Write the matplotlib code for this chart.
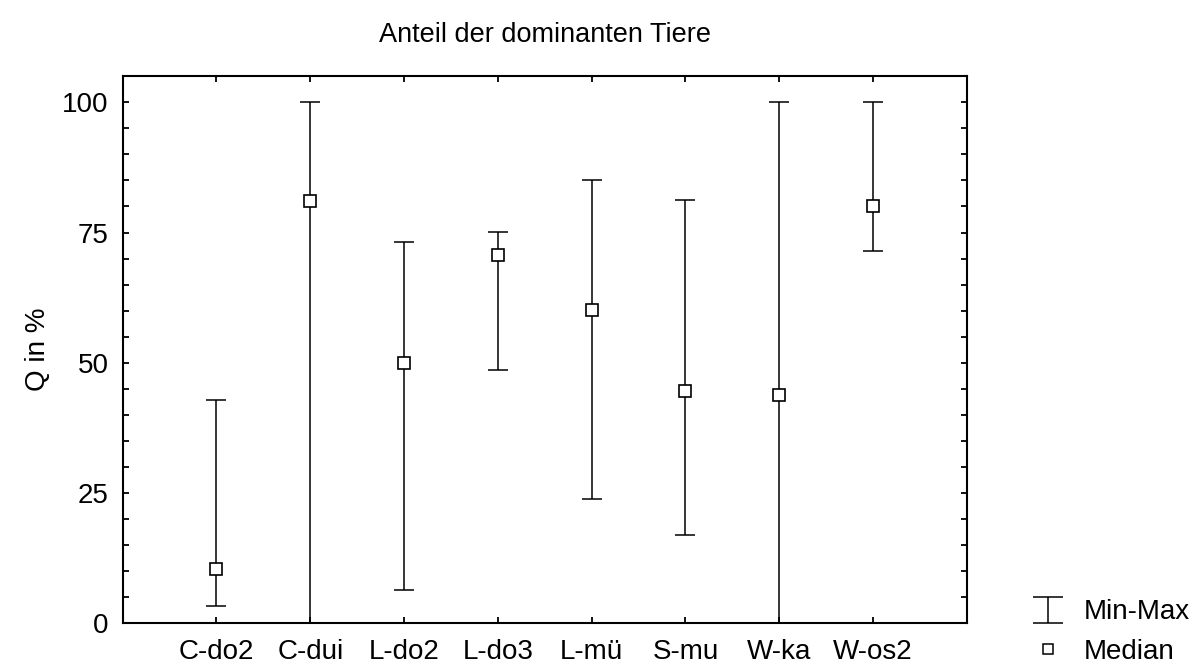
import matplotlib
matplotlib.use("Agg")
import matplotlib.pyplot as plt
from matplotlib.ticker import FixedLocator
from matplotlib.lines import Line2D
from matplotlib.path import Path
import numpy as np

plt.rcParams['font.family'] = ['Liberation Sans', 'DejaVu Sans']

categories = ["C-do2", "C-dui", "L-do2", "L-do3", "L-mü", "S-mu", "W-ka", "W-os2"]
minimum = [3.4, 0.0, 6.3, 48.7, 23.9, 16.9, 0.0, 71.4]
maximum = [42.9, 100.0, 73.2, 75.1, 85.1, 81.2, 100.0, 100.0]
median = [10.4, 81.1, 50.0, 70.7, 60.1, 44.6, 43.8, 80.1]

x = np.arange(1, len(categories) + 1)
med = np.array(median)
lo = med - np.array(minimum)
hi = np.array(maximum) - med

fig = plt.figure(figsize=(11.98, 6.63), dpi=100)
ax = fig.add_axes([0.1024, 0.0599, 0.7047, 0.8259])

ax.errorbar(x, med, yerr=[lo, hi], fmt='none', ecolor='black',
            elinewidth=1.1, capsize=7.5, capthick=1.1, zorder=2)
ax.plot(x, med, linestyle='none', marker='s', markersize=8, markerfacecolor='white',
        markeredgecolor='black', markeredgewidth=1.2, zorder=3)

ax.set_xlim(0, len(categories) + 1)
ax.set_ylim(0, 105.1)
ax.set_xticks(x)
ax.set_xticklabels(categories)
ax.yaxis.set_major_locator(FixedLocator([0, 25, 50, 75, 100]))
ax.yaxis.set_minor_locator(FixedLocator([v for v in range(5, 105, 5) if v % 25 != 0]))

ax.tick_params(axis='both', which='both', direction='in', top=True, right=True,
               width=1.3, length=4, labelsize=20, color='black')
ax.tick_params(axis='x', pad=11)
ax.tick_params(axis='y', pad=10)
for s in ax.spines.values():
    s.set_linewidth(1.5)

ax.set_ylabel("Q in %", fontsize=20, labelpad=8)
ax.set_title("Anteil der dominanten Tiere", fontsize=19.5, pad=24)

# I-beam symbol for the min-max range in the legend
ibeam = Path([(-0.5, 0.42), (0.5, 0.42), (0, 0.42), (0, -0.42), (-0.5, -0.42), (0.5, -0.42)],
             [Path.MOVETO, Path.LINETO, Path.MOVETO, Path.LINETO, Path.MOVETO, Path.LINETO])
h_range = Line2D([], [], linestyle='none', marker=ibeam, markersize=22,
                 markerfacecolor='none', markeredgecolor='black', markeredgewidth=1.1)
h_median = Line2D([], [], linestyle='none', marker='s', markersize=6.5,
                  markerfacecolor='white', markeredgecolor='black', markeredgewidth=1.1)

fig.legend(handles=[h_range, h_median], labels=['Min-Max', 'Median'],
           loc='lower left', bbox_to_anchor=(0.8366, -0.041), frameon=False,
           fontsize=20, handlelength=1.5, handletextpad=0.55, labelspacing=0.5)

fig.savefig("out.png", dpi=100)
